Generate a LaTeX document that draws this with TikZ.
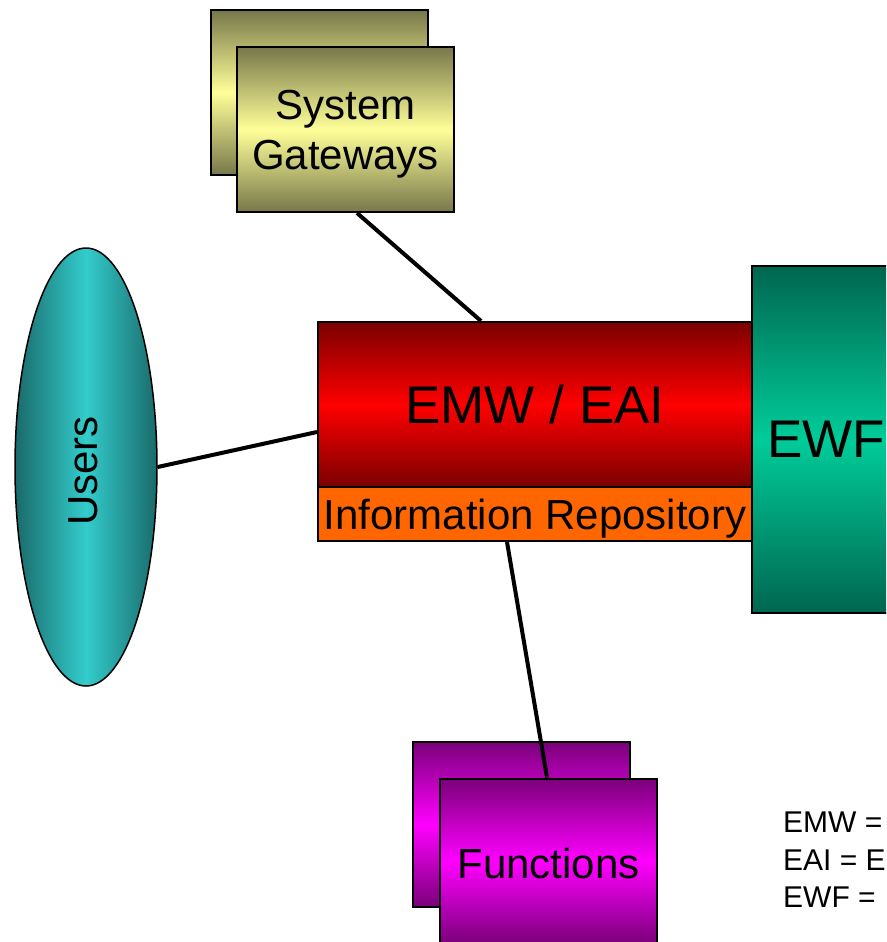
\documentclass[tikz,border=0pt]{standalone}
\usepackage{fontspec}
\setmainfont{Liberation Sans}
\usetikzlibrary{shapes.geometric}

\definecolor{olivedk}{HTML}{77774A}
\definecolor{olivelt}{HTML}{FFFF99}
\definecolor{tealdk}{HTML}{1A6A6A}
\definecolor{teallt}{HTML}{33CCCC}
\definecolor{reddk}{HTML}{7A0000}
\definecolor{redlt}{HTML}{FF0000}
\definecolor{repo}{HTML}{FF6600}
\definecolor{greendk}{HTML}{006650}
\definecolor{greenlt}{HTML}{00CC99}
\definecolor{magdk}{HTML}{7A007A}
\definecolor{maglt}{HTML}{FF00FF}

\begin{document}
\begin{tikzpicture}[
  x=1pt, y=-1pt,
  every node/.style={inner sep=0pt},
  card/.style={rectangle, draw, line width=2pt, minimum width=217pt, minimum height=165pt},
  olive/.style={card, top color=olivedk, bottom color=olivedk, middle color=olivelt},
  purple/.style={card, top color=magdk, bottom color=magdk, middle color=maglt},
  big/.style={font=\fontsize{53}{60}\selectfont},
  mid/.style={font=\fontsize{42}{50}\selectfont},
  small/.style={font=\fontsize{30}{36}\selectfont, anchor=base west},
  link/.style={draw, line width=4pt}]

  \useasboundingbox (0,0) rectangle (886,942);
  \clip (0,0) rectangle (886,942);

  % --- stacked cards: system gateways on top ---
  \node[olive] (gwback) at (319,92.5) {};
  \node[olive] (gw) at (345.5,129.5) {};
  \node[mid, align=center] (gwtxt) at ([yshift=-5pt]gw.center) {System\\Gateways};

  % --- users ---
  \node[ellipse, draw, line width=1.5pt, minimum width=142pt, minimum height=438pt,
        left color=tealdk, right color=tealdk, middle color=teallt] (users) at (86,467) {};
  \node[mid, rotate=90] (userstxt) at (83,471) {Users};

  % --- the middleware block and its repository bar ---
  \node[rectangle, draw, line width=2pt, minimum width=434pt, minimum height=165pt,
        top color=reddk, bottom color=reddk, middle color=redlt, big] (emw) at (535,404.5) {EMW / EAI};
  \node[rectangle, draw, line width=2pt, minimum width=434pt, minimum height=54pt,
        fill=repo] (repo) at (535,514) {};
  \node[mid] (repotxt) at ([yshift=-5pt]repo.center) {Information Repository};

  % --- framework, running off the right edge ---
  \node[rectangle, draw, line width=2pt, minimum width=148pt, minimum height=347pt,
        top color=greendk, bottom color=greendk, middle color=greenlt, big] (ewf) at (826,439.5) {EWF};

  % --- stacked cards: functions below ---
  \node[purple] (fnback) at (521.5,824.5) {};
  \node[purple] (fn) at (548.5,861) {};
  \node[mid] (fntxt) at ([yshift=-2pt]fn.center) {Functions};

  % --- connectors ---
  \draw[link] ([xshift=121pt]gw.south west) -- ([xshift=164pt]emw.north west);
  \draw[link] (users.east) -- ([yshift=-27.5pt]emw.west);
  \draw[link] ([xshift=190pt]repo.south west) -- ([xshift=108pt]fn.north west);

  % --- legend, cut by the edge ---
  \node[small] (leg1) at (783,832) {EMW =};
  \node[small] (leg2) at (783,870) {EAI = E};
  \node[small] (leg3) at (783,907) {EWF =};

\end{tikzpicture}
\end{document}
